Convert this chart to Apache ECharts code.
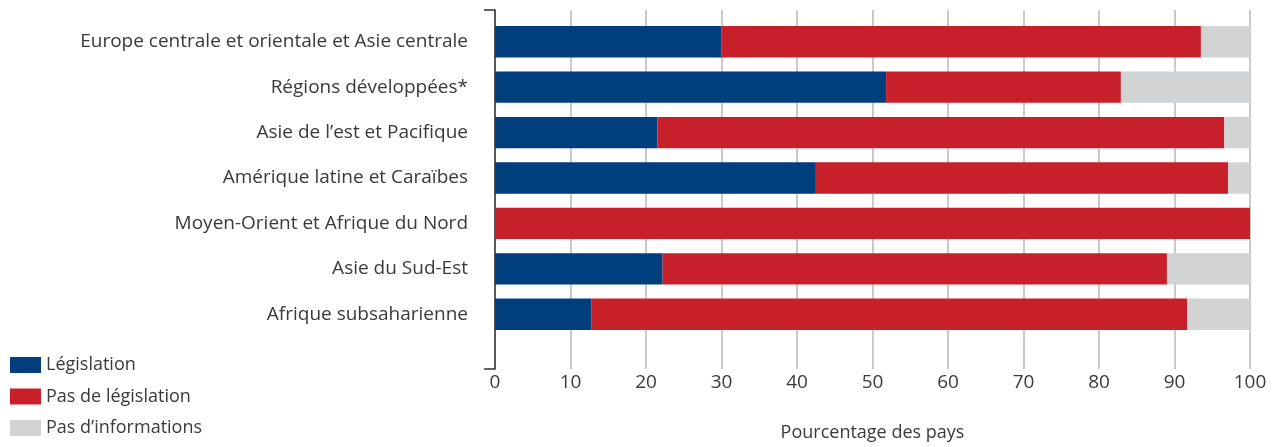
<!DOCTYPE html>
<html>
<head>
<meta charset="utf-8">
<script src="https://cdn.jsdelivr.net/npm/echarts@6/dist/echarts.min.js"></script>
<style>
html,body{margin:0;padding:0;background:#fff;}
#chart{width:1272px;height:447px;}
</style>
</head>
<body>
<div id="chart"></div>
<script>
const categories = [
  "Europe centrale et orientale et Asie centrale",
  "Régions développées*",
  "Asie de l’est et Pacifique",
  "Amérique latine et Caraïbes",
  "Moyen-Orient et Afrique du Nord",
  "Asie du Sud-Est",
  "Afrique subsaharienne"
];
const seriesNames = ["Législation", "Pas de législation", "Pas d’informations"];
const legislation   = [30.0, 51.8, 21.5, 42.5, 0,   22.2, 12.8];
const noLegislation = [63.5, 31.1, 75.1, 54.6, 100, 66.8, 78.9];
const noInfo        = [6.5,  17.1, 3.4,  2.9,  0,   11.0, 8.3];
const xTicks = [0, 10, 20, 30, 40, 50, 60, 70, 80, 90, 100];
const xAxisTitle = "Pourcentage des pays";

const colors = ["#003e7e", "#c8202a", "#d1d3d4"];
const font = "'Open Sans', sans-serif";
const textColor = "#3a3a3a";

const chart = echarts.init(document.getElementById('chart'), null, {renderer: 'canvas'});
const option = {
  animation: false,
  color: colors,
  textStyle: {fontFamily: font},
  grid: [
    {left: 495, right: 22, top: 19, bottom: 110},
    {left: 495, right: 22, top: 10, bottom: 74}
  ],
  legend: {
    orient: 'vertical',
    left: 5,
    top: 351,
    itemWidth: 31,
    itemHeight: 16,
    itemGap: 13.5,
    icon: 'rect',
    data: seriesNames,
    textStyle: {fontFamily: font, fontSize: 18, color: textColor}
  },
  xAxis: [
    {gridIndex: 0, type: 'value', min: 0, max: 100, show: false},
    {gridIndex: 1, type: 'value', min: xTicks[0], max: xTicks[xTicks.length-1], interval: 10,
     axisLine: {show: false}, axisTick: {show: false},
     splitLine: {show: true, lineStyle: {color: '#b9b9b9', width: 1.5}},
     axisLabel: {fontFamily: font, fontSize: 19, color: textColor, margin: 4},
     name: xAxisTitle, nameLocation: 'middle', nameGap: 55,
     nameTextStyle: {fontFamily: font, fontSize: 18, color: textColor}}
  ],
  yAxis: [
    {gridIndex: 0, type: 'category', inverse: true, data: categories,
     axisLine: {show: false}, axisTick: {show: false},
     axisLabel: {fontFamily: font, fontSize: 19, color: textColor, margin: 27, padding: [0, 0, 6, 0]}},
    {gridIndex: 1, type: 'category', data: [''],
     axisLine: {show: true, lineStyle: {color: '#333', width: 1.5}},
     axisTick: {show: true, length: 11, lineStyle: {color: '#333', width: 1.5}},
     axisLabel: {show: false}}
  ],
  series: [
    {name: seriesNames[0], type: 'bar', stack: 's', xAxisIndex: 0, yAxisIndex: 0, data: legislation, barCategoryGap: '31%'},
    {name: seriesNames[1], type: 'bar', stack: 's', xAxisIndex: 0, yAxisIndex: 0, data: noLegislation},
    {name: seriesNames[2], type: 'bar', stack: 's', xAxisIndex: 0, yAxisIndex: 0, data: noInfo}
  ]
};
chart.setOption(option);
</script>
</body>
</html>
